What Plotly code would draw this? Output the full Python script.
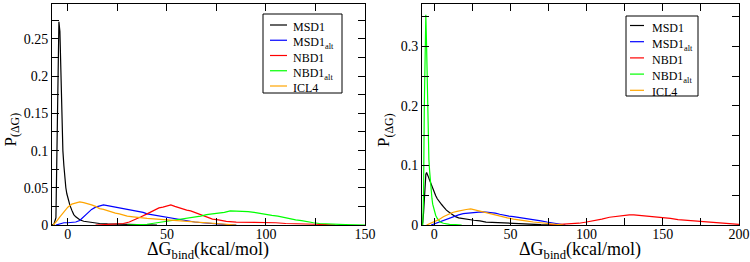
import plotly.graph_objects as go
from plotly.subplots import make_subplots

# ---------------- Data: left panel ----------------
L_msd1_x = [-8, -7, -6, -5.5, -5, -4.5, -4, -3.5, -3, -2.5, -2, -1.5, -1, -0.5, 0, 1, 2, 3, 4, 6, 8, 10, 13, 16, 20, 25, 30, 35, 40, 45]
L_msd1_y = [0, 0.001, 0.01, 0.08, 0.2, 0.273, 0.26, 0.2, 0.15, 0.1, 0.08, 0.06, 0.05, 0.042, 0.036, 0.027, 0.02, 0.014, 0.011, 0.007, 0.005, 0.004, 0.003, 0.002, 0.0015, 0.001, 0.0008, 0.0005, 0.0003, 0]

L_msd1alt_x = [-6, -4, -2, 0, 2, 4, 6, 8, 10, 12, 14, 16, 18, 20, 22, 24, 26, 28, 30, 32, 34, 36, 38, 40, 42, 44, 46, 48, 50, 53, 56, 60, 64, 68, 72, 76, 80, 85]
L_msd1alt_y = [0, 0.002, 0.003, 0.003, 0.003, 0.004, 0.006, 0.011, 0.016, 0.021, 0.024, 0.025, 0.027, 0.026, 0.025, 0.024, 0.023, 0.022, 0.021, 0.020, 0.019, 0.018, 0.017, 0.015, 0.014, 0.013, 0.012, 0.011, 0.010, 0.009, 0.007, 0.006, 0.004, 0.003, 0.002, 0.001, 0.0005, 0]

L_nbd1_x = [14, 20, 25, 28, 31, 34, 37, 40, 42, 44, 46, 48, 50, 52, 54, 56, 58, 60, 62, 64, 66, 68, 70, 73, 76, 80, 85, 90, 95, 100, 105, 110, 115, 120, 125, 130, 135]
L_nbd1_y = [0, 0.0005, 0.001, 0.002, 0.004, 0.007, 0.011, 0.015, 0.018, 0.021, 0.023, 0.024, 0.026, 0.027, 0.025, 0.023, 0.022, 0.020, 0.019, 0.017, 0.014, 0.012, 0.010, 0.008, 0.007, 0.005, 0.004, 0.004, 0.003, 0.003, 0.003, 0.002, 0.002, 0.0015, 0.001, 0.0005, 0]

L_nbd1alt_x = [30, 35, 40, 45, 50, 55, 58, 61, 64, 67, 70, 73, 76, 79, 82, 85, 88, 91, 94, 97, 100, 103, 106, 109, 112, 115, 118, 121, 124, 127, 130, 135, 140, 145, 150]
L_nbd1alt_y = [0, 0.0005, 0.001, 0.003, 0.005, 0.007, 0.009, 0.010, 0.011, 0.012, 0.014, 0.015, 0.016, 0.017, 0.019, 0.019, 0.018, 0.018, 0.017, 0.016, 0.015, 0.013, 0.012, 0.010, 0.008, 0.007, 0.006, 0.004, 0.003, 0.002, 0.0015, 0.001, 0.0005, 0.0002, 0]

L_icl4_x = [-7.5, -6, -4, -2, 0, 2, 4, 6, 8, 10, 12, 14, 16, 18, 20, 22, 24, 26, 28, 30, 33, 36, 40, 45, 50, 55, 60, 65, 70, 75, 80, 85]
L_icl4_y = [0, 0.004, 0.011, 0.018, 0.024, 0.028, 0.030, 0.031, 0.030, 0.029, 0.027, 0.025, 0.022, 0.021, 0.019, 0.018, 0.016, 0.015, 0.013, 0.012, 0.011, 0.010, 0.009, 0.008, 0.007, 0.007, 0.005, 0.004, 0.003, 0.002, 0.001, 0]

# ---------------- Data: right panel ----------------
R_msd1_x = [-8, -7.5, -7, -6.5, -6, -5.5, -5, -4.5, -4, -3, -2, -1, 0, 1, 2, 3, 4, 5, 6, 7, 8, 10, 12, 14, 16, 18, 20, 23, 26, 30, 34, 38, 42, 46, 50, 55, 60, 65, 70, 80]
R_msd1_y = [0, 0.005, 0.02, 0.05, 0.075, 0.085, 0.088, 0.086, 0.082, 0.075, 0.068, 0.062, 0.056, 0.049, 0.044, 0.040, 0.036, 0.034, 0.031, 0.028, 0.025, 0.021, 0.017, 0.014, 0.012, 0.011, 0.010, 0.009, 0.008, 0.007, 0.005, 0.0045, 0.004, 0.003, 0.002, 0.0015, 0.001, 0.0008, 0.0005, 0]

R_msd1alt_x = [-2, 0, 2, 4, 7, 10, 13, 16, 19, 22, 25, 28, 31, 34, 37, 40, 43, 46, 49, 52, 55, 58, 61, 64, 67, 70, 74, 78, 82, 86]
R_msd1alt_y = [0, 0.002, 0.004, 0.0056, 0.008, 0.011, 0.014, 0.017, 0.019, 0.020, 0.021, 0.021, 0.022, 0.0215, 0.021, 0.020, 0.018, 0.016, 0.015, 0.014, 0.013, 0.012, 0.011, 0.009, 0.008, 0.007, 0.005, 0.003, 0.001, 0]

R_nbd1_x = [75, 80, 85, 90, 95, 100, 105, 110, 115, 120, 125, 128, 131, 135, 140, 145, 150, 155, 160, 165, 170, 175, 180, 185, 190, 195, 200]
R_nbd1_y = [0, 0.0005, 0.001, 0.002, 0.003, 0.005, 0.007, 0.010, 0.013, 0.015, 0.016, 0.017, 0.017, 0.016, 0.016, 0.014, 0.013, 0.011, 0.009, 0.008, 0.006, 0.005, 0.004, 0.003, 0.002, 0.0015, 0.001]

R_nbd1alt_x = [-7.5, -7, -6.5, -6, -5.5, -5, -4.5, -4, -3.5, -3, -2.5, -2, -1.5, -1, 0, 1, 2, 3, 4, 6, 8, 10, 14, 18]
R_nbd1alt_y = [0, 0.05, 0.2, 0.33, 0.353, 0.3, 0.22, 0.15, 0.11, 0.09, 0.07, 0.055, 0.045, 0.035, 0.024, 0.016, 0.011, 0.007, 0.005, 0.003, 0.002, 0.001, 0.0005, 0]

R_icl4_x = [-5, -2, 0, 3, 6, 9, 12, 15, 18, 21, 24, 27, 30, 33, 36, 39, 42, 45, 48, 52, 56, 60, 65, 70, 74, 80, 85]
R_icl4_y = [0, 0.003, 0.005, 0.009, 0.014, 0.018, 0.021, 0.023, 0.025, 0.026, 0.027, 0.025, 0.024, 0.022, 0.020, 0.018, 0.016, 0.014, 0.012, 0.010, 0.009, 0.007, 0.005, 0.004, 0.003, 0.001, 0]

names = ["MSD1", "MSD1<sub>alt</sub>", "NBD1", "NBD1<sub>alt</sub>", "ICL4"]
colors = ["#000000", "#0000ff", "#ff0000", "#00ff00", "#ffa500"]
x_title = "ΔG<sub>bind</sub>(kcal/mol)"
y_title = "P<sub>(ΔG)</sub>"

left_series = [(L_msd1_x, L_msd1_y), (L_msd1alt_x, L_msd1alt_y), (L_nbd1_x, L_nbd1_y),
               (L_nbd1alt_x, L_nbd1alt_y), (L_icl4_x, L_icl4_y)]
right_series = [(R_msd1_x, R_msd1_y), (R_msd1alt_x, R_msd1alt_y), (R_nbd1_x, R_nbd1_y),
                (R_nbd1alt_x, R_nbd1alt_y), (R_icl4_x, R_icl4_y)]

FONT = "Liberation Serif"
W, H = 750, 262

def px(xp):
    return xp / W

def py(yp):
    return (H - yp) / H

fig = make_subplots(rows=1, cols=2)

for (x, y), n, c in zip(left_series, names, colors):
    fig.add_trace(go.Scatter(x=x, y=y, mode="lines", name=n, line=dict(color=c, width=1.2),
                             showlegend=False), row=1, col=1)
for (x, y), n, c in zip(right_series, names, colors):
    fig.add_trace(go.Scatter(x=x, y=y, mode="lines", name=n, line=dict(color=c, width=1.2),
                             showlegend=False), row=1, col=2)

axis_common = dict(showline=True, linecolor="black", linewidth=1, mirror="allticks",
                   ticks="inside", ticklen=7, tickcolor="black", tickwidth=1,
                   showgrid=False, zeroline=False, automargin=False,
                   tickfont=dict(family=FONT, size=14, color="black"))
fig.update_xaxes(**axis_common, ticklabelstandoff=-4)
fig.update_yaxes(**axis_common)

minor_x = dict(dtick=25, ticks="inside", ticklen=7, tickcolor="black")

fig.update_layout(
    xaxis=dict(domain=[0.0693, 0.4867], range=[-8, 150], dtick=50, tick0=0, minor=minor_x),
    yaxis=dict(domain=[0.1412, 0.9847], range=[0, 0.297], dtick=0.05, tick0=0,
               minor=dict(dtick=0.025, ticks="inside", ticklen=7, tickcolor="black")),
    xaxis2=dict(domain=[0.5627, 0.9853], range=[-8, 200], dtick=50, tick0=0, minor=minor_x),
    yaxis2=dict(domain=[0.1412, 0.9847], range=[0, 0.371], dtick=0.1, tick0=0,
                minor=dict(dtick=0.05, ticks="inside", ticklen=7, tickcolor="black")),
    width=W, height=H,
    margin=dict(l=0, r=0, t=0, b=0, autoexpand=False),
    paper_bgcolor="white", plot_bgcolor="white",
    showlegend=False,
)

annotations = []
shapes = []
# axis titles
for cx in (208, 580):
    annotations.append(dict(text=x_title, x=px(cx), y=py(237), xref="paper", yref="paper",
                            xanchor="center", yanchor="top", showarrow=False,
                            font=dict(family=FONT, size=18, color="black")))
for cx in (11.5, 385):
    annotations.append(dict(text=y_title, x=px(cx), y=py(130), xref="paper", yref="paper",
                            xanchor="center", yanchor="middle", showarrow=False, textangle=-90,
                            font=dict(family=FONT, size=17, color="black")))

# legends (box + sample lines + labels)
legend_specs = [
    # box x0, x1, y0, y1, line x0, x1, text x, first row y, row pitch
    (263, 342, 14, 93, 270, 287, 292, 25, 15.25),
    (626, 698, 16, 96, 630, 644, 651, 25.5, 16.2),
]
for bx0, bx1, by0, by1, lx0, lx1, tx, ry0, pitch in legend_specs:
    shapes.append(dict(type="rect", xref="paper", yref="paper", x0=px(bx0), x1=px(bx1),
                       y0=py(by1), y1=py(by0), line=dict(color="black", width=1),
                       fillcolor="white", layer="above"))
    for i, (n, c) in enumerate(zip(names, colors)):
        yy = ry0 + i * pitch
        shapes.append(dict(type="line", xref="paper", yref="paper", x0=px(lx0), x1=px(lx1),
                           y0=py(yy), y1=py(yy), line=dict(color=c, width=1.2), layer="above"))
        annotations.append(dict(text=n, x=px(tx), y=py(yy - 6), xref="paper", yref="paper",
                                xanchor="left", yanchor="top", showarrow=False, borderpad=0,
                                font=dict(family=FONT, size=12, color="black")))

fig.update_layout(annotations=annotations, shapes=shapes)
fig.write_html("out.html", config={"displayModeBar": False},
               post_script="document.body.style.margin='0px';document.body.style.overflow='hidden';")
